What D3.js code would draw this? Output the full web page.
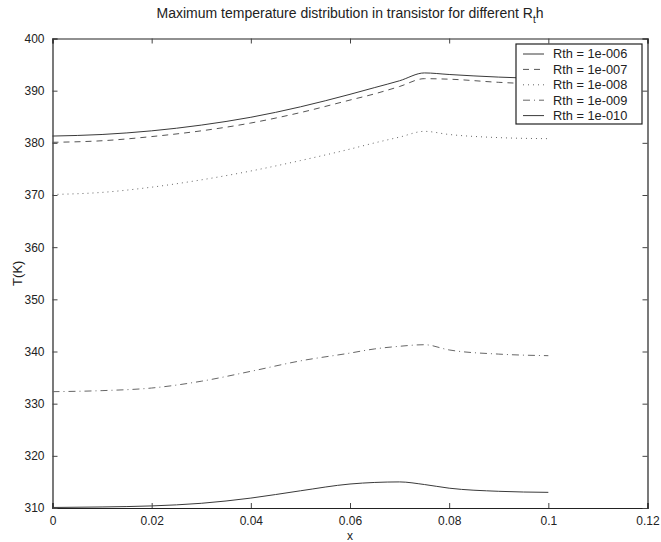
<!DOCTYPE html>
<html lang="en">
  <head>
    <meta charset="utf-8" />
    <title>Maximum temperature distribution</title>
    <script src="https://cdn.jsdelivr.net/npm/d3@7"></script>
    <style>
      body { margin: 0; background: #fff; }
      svg text { font-family: "Liberation Sans", Arial, sans-serif; fill: #222; }
    </style>
  </head>
  <body>
    <div id="chart"></div>
    <script type="text/javascript">
      // data
      const xs = [0, 0.01, 0.02, 0.03, 0.04, 0.05, 0.06, 0.065, 0.07, 0.075, 0.08, 0.09, 0.1];
      const rth6 = [381.3, 381.6, 382.3, 383.4, 384.9, 386.9, 389.3, 390.6, 391.9, 393.4, 393.1, 392.6, 392.3];
      const rth7 = [380.1, 380.4, 381.2, 382.3, 383.8, 385.8, 388.2, 389.4, 390.8, 392.3, 392.2, 391.6, 391.2];
      const rth8 = [370.1, 370.5, 371.5, 372.9, 374.6, 376.6, 378.8, 380.0, 381.1, 382.2, 381.6, 381.0, 380.8];
      const rth9 = [332.3, 332.5, 333.0, 334.3, 336.2, 338.2, 339.7, 340.5, 341.0, 341.3, 340.3, 339.5, 339.2];
      const rth10 = [310.1, 310.2, 310.4, 310.9, 311.9, 313.3, 314.6, 314.9, 315.0, 314.5, 313.8, 313.2, 313.0];
      const seriesNames = ["Rth = 1e-006", "Rth = 1e-007", "Rth = 1e-008", "Rth = 1e-009", "Rth = 1e-010"];
      const xTicks = [0, 0.02, 0.04, 0.06, 0.08, 0.1, 0.12];
      const yTicks = [310, 320, 330, 340, 350, 360, 370, 380, 390, 400];

      const dashes = [null, "6,5", "1,4", "7,4,1,4", null];
      const strokes = ["#3a3a3a", "#555", "#666", "#666", "#3a3a3a"];
      const allSeries = [rth6, rth7, rth8, rth9, rth10];

      const W = 661, H = 542;
      const plotL = 52.5, plotR = 647.5, plotT = 38.5, plotB = 508;

      const svg = d3.select("#chart").append("svg")
        .attr("width", W).attr("height", H);

      const x = d3.scaleLinear().domain([0, 0.12]).range([plotL, plotR]);
      const y = d3.scaleLinear().domain([310, 400]).range([plotB, plotT]);

      const fmt = d => d === 0 ? "0" : String(+d.toFixed(2));

      // axes with inward ticks on all four sides
      svg.append("g").attr("transform", `translate(0,${plotB})`)
        .call(d3.axisBottom(x).tickValues(xTicks).tickSize(-5).tickPadding(8).tickFormat(fmt));
      svg.append("g").attr("transform", `translate(0,${plotT})`)
        .call(d3.axisTop(x).tickValues(xTicks).tickSize(-5).tickFormat(""));
      svg.append("g").attr("transform", `translate(${plotL},0)`)
        .call(d3.axisLeft(y).tickValues(yTicks).tickSize(-5).tickPadding(8));
      svg.append("g").attr("transform", `translate(${plotR},0)`)
        .call(d3.axisRight(y).tickValues(yTicks).tickSize(-5).tickFormat(""));

      svg.selectAll(".domain").attr("stroke", "#222").attr("stroke-width", 1.2);
      svg.selectAll(".tick line").attr("stroke", "#444");
      svg.selectAll(".tick text").attr("font-size", 12).attr("fill", "#222")
        .attr("font-family", "'Liberation Sans', Arial, sans-serif");

      const line = d3.line()
        .x((d, i) => x(xs[i]))
        .y(d => y(d))
        .curve(d3.curveMonotoneX);

      allSeries.forEach((s, k) => {
        svg.append("path")
          .datum(s)
          .attr("d", line)
          .attr("fill", "none")
          .attr("stroke", strokes[k])
          .attr("stroke-width", 1)
          .attr("stroke-dasharray", dashes[k]);
      });

      // title
      const title = svg.append("text")
        .attr("x", (plotL + plotR) / 2)
        .attr("y", 18)
        .attr("text-anchor", "middle")
        .attr("font-size", 14);
      title.append("tspan").text("Maximum temperature distribution in transistor for different R");
      title.append("tspan").attr("font-size", 10).attr("dy", 5).text("t");
      title.append("tspan").attr("dy", -5).text("h");

      // axis labels
      svg.append("text")
        .attr("x", (plotL + plotR) / 2)
        .attr("y", 540)
        .attr("text-anchor", "middle")
        .attr("font-size", 12)
        .text("x");
      svg.append("text")
        .attr("transform", `translate(22,${(plotT + plotB) / 2}) rotate(-90)`)
        .attr("text-anchor", "middle")
        .attr("font-size", 13)
        .text("T(K)");

      // legend
      const lg = svg.append("g");
      lg.append("rect")
        .attr("x", 516).attr("y", 44)
        .attr("width", 126).attr("height", 80)
        .attr("fill", "#fff").attr("stroke", "#222").attr("stroke-width", 1.2);
      seriesNames.forEach((name, k) => {
        const ly = 54 + k * 15.4;
        lg.append("line")
          .attr("x1", 523).attr("x2", 544)
          .attr("y1", ly).attr("y2", ly)
          .attr("stroke", strokes[k])
          .attr("stroke-dasharray", dashes[k]);
        lg.append("text")
          .attr("x", 553).attr("y", ly + 4.4)
          .attr("font-size", 12.8)
          .text(name);
      });
    </script>
  </body>
</html>
